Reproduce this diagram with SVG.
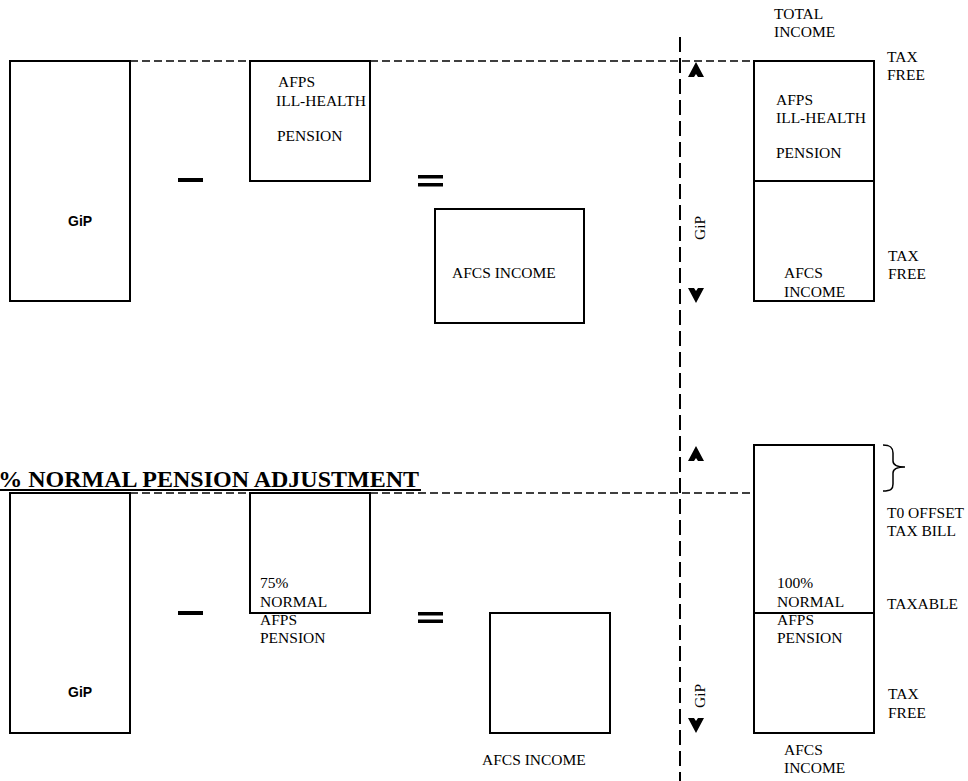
<svg xmlns="http://www.w3.org/2000/svg" xmlns:xlink="http://www.w3.org/1999/xlink" width="968" height="781" viewBox="0 0 968 781">
<style>
.box{fill:#fff;stroke:#000;stroke-width:2}
.t{font-family:"Liberation Serif","Times New Roman",serif;font-size:15.5px;fill:#000}
.b{font-family:"Liberation Sans",Arial,sans-serif;font-size:14px;font-weight:bold;fill:#000}
.title{font-family:"Liberation Serif","Times New Roman",serif;font-size:24px;font-weight:bold;fill:#000}
.hd{stroke:#000;stroke-width:1.5;stroke-dasharray:8 4;fill:none}
.vd{stroke:#000;stroke-width:2;stroke-dasharray:15 6;fill:none}
.op{fill:#000}
</style>
<defs>
<path id="up" d="M0,0 L8,15 L2,15 L0,12 L-2,15 L-8,15 Z" fill="#000"/>
<path id="down" d="M0,0 L8,-15 L2,-15 L0,-12 L-2,-15 L-8,-15 Z" fill="#000"/>
</defs>
<rect width="968" height="781" fill="#fff"/>

<g id="connectors">
<line class="hd" x1="130" y1="61" x2="754" y2="61"/>
<line class="hd" x1="130" y1="493" x2="874" y2="493"/>
<line class="vd" x1="680" y1="37" x2="680" y2="781"/>
<use xlink:href="#up" x="696" y="62"/>
<use xlink:href="#down" x="696" y="303"/>
<use xlink:href="#up" x="696" y="446"/>
<use xlink:href="#down" x="696" y="733"/>
</g>

<g id="top-gip">
<rect class="box" x="10" y="61" width="120" height="240"/>
<text class="b" x="68" y="226">GiP</text>
</g>
<g id="top-minus"><rect class="op" x="178" y="178" width="25" height="4"/></g>
<g id="top-afps">
<rect class="box" x="250" y="61" width="120" height="120"/>
<text class="t" x="278" y="87">AFPS</text>
<text class="t" x="276" y="106">ILL-HEALTH</text>
<text class="t" x="277" y="141">PENSION</text>
</g>
<g id="top-equals">
<rect class="op" x="418" y="175" width="25" height="3.5"/>
<rect class="op" x="418" y="183" width="25" height="3.5"/>
</g>
<g id="top-afcs">
<rect class="box" x="435" y="209" width="149" height="114"/>
<text class="t" x="452" y="278">AFCS INCOME</text>
</g>
<g id="top-gip-axis">
<text class="t" transform="translate(705,240) rotate(-90)">GiP</text>
</g>
<g id="top-total">
<text class="t" x="774" y="19">TOTAL</text>
<text class="t" x="774" y="37">INCOME</text>
<rect class="box" x="754" y="61" width="120" height="120"/>
<rect class="box" x="754" y="181" width="120" height="120"/>
<text class="t" x="776" y="105">AFPS</text>
<text class="t" x="776" y="123">ILL-HEALTH</text>
<text class="t" x="776" y="158">PENSION</text>
<text class="t" x="784" y="278">AFCS</text>
<text class="t" x="784" y="297">INCOME</text>
<text class="t" x="887" y="62">TAX</text>
<text class="t" x="887" y="80">FREE</text>
<text class="t" x="888" y="261">TAX</text>
<text class="t" x="888" y="279">FREE</text>
</g>

<g id="title">
<text class="title" x="419" y="487" text-anchor="end">% NORMAL PENSION ADJUSTMENT</text>
<rect class="op" x="0" y="489" width="421" height="2"/>
</g>
<g id="bot-gip">
<rect class="box" x="10" y="493" width="120" height="240"/>
<text class="b" x="68" y="697">GiP</text>
</g>
<g id="bot-minus"><rect class="op" x="178" y="611" width="25" height="4"/></g>
<g id="bot-afps">
<rect class="box" x="250" y="493" width="120" height="120"/>
<text class="t" x="260" y="588">75%</text>
<text class="t" x="260" y="607">NORMAL</text>
<text class="t" x="260" y="625">AFPS</text>
<text class="t" x="260" y="643">PENSION</text>
</g>
<g id="bot-equals">
<rect class="op" x="418" y="612" width="25" height="3.5"/>
<rect class="op" x="418" y="619.5" width="25" height="3.5"/>
</g>
<g id="bot-afcs">
<rect class="box" x="490" y="613" width="120" height="120"/>
<text class="t" x="482" y="765">AFCS INCOME</text>
</g>
<g id="bot-gip-axis">
<text class="t" transform="translate(705,708) rotate(-90)">GiP</text>
</g>
<g id="bot-total">
<rect class="box" x="754" y="445" width="120" height="168"/>
<rect class="box" x="754" y="613" width="120" height="120"/>
<text class="t" x="777" y="588">100%</text>
<text class="t" x="777" y="607">NORMAL</text>
<text class="t" x="777" y="625">AFPS</text>
<text class="t" x="777" y="643">PENSION</text>
<text class="t" x="784" y="755">AFCS</text>
<text class="t" x="784" y="773">INCOME</text>
<path d="M883,445 C891,445 893,448 893,453 L893,461 C893,465 896,467 905,467 C896,467 893,469 893,473 L893,484 C893,489 891,491 883,491" fill="none" stroke="#000" stroke-width="1.5"/>
<text class="t" x="887" y="518">T0 OFFSET</text>
<text class="t" x="887" y="536">TAX BILL</text>
<text class="t" x="887" y="609">TAXABLE</text>
<text class="t" x="888" y="699">TAX</text>
<text class="t" x="888" y="718">FREE</text>
</g>
</svg>
